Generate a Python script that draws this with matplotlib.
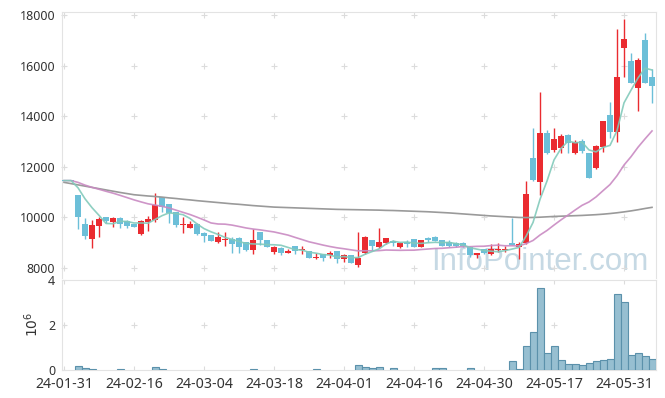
import matplotlib
matplotlib.use("Agg")
import matplotlib.pyplot as plt
import matplotlib.transforms as mtransforms
import numpy as np

# ---------------- data ----------------
dates = (["2024-01-31"]
         + ["2024-02-%02d" % d for d in [1, 2, 5, 6, 7, 8, 13, 14, 15, 16, 19, 20, 21, 22, 23, 26, 27, 28, 29]]
         + ["2024-03-%02d" % d for d in [4, 5, 6, 7, 8, 11, 12, 13, 14, 15, 18, 19, 20, 21, 22, 25, 26, 27, 28, 29]]
         + ["2024-04-%02d" % d for d in [1, 2, 3, 4, 5, 8, 9, 11, 12, 15, 16, 17, 18, 19, 22, 23, 24, 25, 26, 29, 30]]
         + ["2024-05-%02d" % d for d in [2, 3, 7, 8, 9, 10, 13, 14, 16, 17, 20, 21, 22, 23, 24, 27, 28, 29, 30, 31]]
         + ["2024-06-%02d" % d for d in [3, 4, 5, 7]])

opens = [11450, 11450, 10880, 9730, 9140, 9665, 10000, 9820, 9970, 9850,
         9730, 9320, 9800, 9890, 10790, 10520, 10190, 9700, 9585, 9745,
         9390, 9295, 9030, 9120, 9140, 9190, 9000, 8700, 9410, 9100,
         8635, 8795, 8600, 8860, 8700, 8660, 8400, 8530, 8500, 8660,
         8330, 8500, 8110, 8570, 9100, 8830, 8990, 9070, 8810, 9015,
         9120, 8810, 9165, 9230, 9100, 9030, 8990, 8980, 8830, 8500,
         8725, 8530, 8710, 8715, 8965, 8800, 8960, 12360, 11410, 13320,
         12660, 12750, 13250, 12530, 13020, 12530, 11935, 12800, 14050, 13390,
         16710, 16185, 15100, 17020, 15565]
highs = [11450, 11450, 10880, 9980, 9880, 9990, 10010, 9990, 10010, 9900,
         9750, 9890, 10060, 10940, 10800, 10530, 10200, 9990, 9830, 9760,
         9400, 9310, 9430, 9430, 9230, 9200, 9010, 9520, 9420, 9100,
         8870, 8800, 8730, 8870, 8870, 8670, 8600, 8540, 8660, 8670,
         8530, 8510, 9430, 9270, 9110, 9560, 9170, 9100, 9030, 9100,
         9130, 9110, 9230, 9240, 9110, 9100, 9030, 9000, 8840, 8600,
         8730, 8925, 8990, 8860, 9980, 9000, 11450, 13520, 14940, 13450,
         13520, 13280, 13300, 13050, 13080, 12540, 12860, 13810, 14575, 17450,
         17850, 16515, 16290, 17300, 15855]
lows = [11450, 11450, 9530, 9140, 8770, 9230, 9780, 9620, 9560, 9560,
        9620, 9300, 9470, 9820, 10220, 9760, 9620, 9390, 9560, 9290,
        9030, 9040, 8970, 8860, 8600, 8600, 8660, 8530, 8900, 8800,
        8530, 8500, 8570, 8530, 8530, 8380, 8340, 8265, 8370, 8170,
        8240, 8170, 8040, 8530, 8670, 8770, 8940, 8860, 8770, 8830,
        8820, 8800, 9030, 9060, 8860, 8830, 8830, 8830, 8410, 8370,
        8560, 8500, 8630, 8630, 8880, 8330, 8930, 11450, 10880, 12500,
        12600, 12530, 12530, 12500, 12555, 11560, 11900, 12600, 13120, 12990,
        15565, 15300, 14205, 15300, 14510]
closes = [11450, 11450, 10020, 9270, 9690, 9930, 9850, 9970, 9745, 9665,
          9625, 9850, 9930, 10480, 10420, 10180, 9700, 9720, 9730, 9335,
          9255, 9070, 9200, 9140, 8940, 8830, 8700, 9100, 9100, 8830,
          8810, 8600, 8675, 8675, 8715, 8400, 8415, 8400, 8570, 8330,
          8500, 8200, 8400, 9230, 8860, 9030, 9165, 8965, 8990, 8925,
          8830, 9100, 9100, 9070, 8870, 8870, 8860, 8850, 8500, 8595,
          8595, 8730, 8730, 8730, 8900, 8930, 10920, 11470, 13320, 12530,
          13100, 13200, 12925, 12990, 12635, 11565, 12820, 13810, 13390, 15565,
          17060, 15330, 16225, 15330, 15210]

ma5 = [11450, 11450, 11164, 10728, 10376, 10072, 9752, 9742, 9837, 9832,
       9771, 9771, 9763, 9910, 10061, 10172, 10142, 10100, 9950, 9733,
       9548, 9422, 9318, 9200, 9121, 9036, 8962, 8942, 8934, 8912,
       8908, 8888, 8803, 8718, 8695, 8613, 8576, 8521, 8500, 8423,
       8443, 8400, 8400, 8532, 8638, 8744, 8937, 9050, 9002, 9015,
       8975, 8962, 8989, 9005, 8994, 9002, 8954, 8904, 8790, 8735,
       8680, 8654, 8630, 8676, 8737, 8804, 9242, 9790, 10708, 11434,
       12268, 12724, 13015, 12949, 12970, 12663, 12587, 12764, 12844, 13430,
       14529, 15031, 15514, 15902, 15831]
ma20 = [11450, 11450, 11379, 11270, 11182, 11106, 11026, 10952, 10866, 10777,
        10686, 10606, 10530, 10481, 10430, 10366, 10279, 10192, 10106, 10001,
        9891, 9772, 9731, 9724, 9687, 9632, 9574, 9531, 9499, 9457,
        9416, 9354, 9291, 9201, 9115, 9026, 8962, 8896, 8838, 8788,
        8750, 8707, 8667, 8671, 8667, 8677, 8700, 8694, 8688, 8693,
        8694, 8719, 8740, 8760, 8768, 8791, 8813, 8836, 8832, 8846,
        8850, 8877, 8893, 8868, 8870, 8865, 8953, 9078, 9295, 9475,
        9689, 9894, 10085, 10281, 10469, 10604, 10802, 11050, 11294, 11643,
        12066, 12396, 12771, 13101, 13416]
ma_long = [11380, 11330, 11280, 11230, 11180, 11130, 11080, 11030, 10980, 10935,
           10890, 10865, 10840, 10820, 10795, 10765, 10740, 10710, 10685, 10655,
           10630, 10605, 10580, 10555, 10530, 10510, 10485, 10460, 10440, 10420,
           10400, 10390, 10380, 10370, 10360, 10350, 10340, 10330, 10320, 10310,
           10305, 10300, 10295, 10290, 10285, 10280, 10270, 10265, 10255, 10245,
           10235, 10225, 10215, 10200, 10185, 10170, 10150, 10130, 10110, 10090,
           10070, 10050, 10035, 10020, 10005, 9990, 9985, 9990, 10000, 10015,
           10030, 10040, 10050, 10060, 10070, 10085, 10100, 10120, 10145, 10175,
           10210, 10250, 10295, 10345, 10390]

volumes = [0, 0, 150000, 90000, 45000, 0, 0, 0, 40000, 0,
           0, 0, 0, 100000, 40000, 0, 0, 0, 0, 0,
           0, 0, 0, 0, 0, 0, 0, 40000, 0, 0,
           0, 0, 0, 0, 0, 0, 40000, 0, 0, 0,
           0, 0, 190000, 100000, 50000, 100000, 0, 50000, 0, 0,
           0, 0, 0, 50000, 50000, 0, 0, 0, 50000, 0,
           0, 0, 0, 0, 370000, 45000, 1040000, 1670000, 3640000, 730000,
           1040000, 420000, 240000, 240000, 190000, 280000, 370000, 420000, 460000, 3360000,
           3010000, 640000, 760000, 600000, 460000]

price_ticks = [8000, 10000, 12000, 14000, 16000, 18000]
vol_ticks = [0, 2, 4]

# ---------------- style ----------------
UP = "#ea2b30"
DOWN = "#6cbfd8"
GRID = "#dcdcdc"
SPINE = "#e3e3e3"
TXT = "#333333"
plt.rcParams["font.family"] = ["Noto Sans", "DejaVu Sans"]

W, H = 665, 398
fig = plt.figure(figsize=(W / 100, H / 100), dpi=100)
ax = fig.add_axes([62 / W, 1 - 278 / H, (656 - 62) / W, (278 - 12.3) / H])
axv = fig.add_axes([62 / W, 1 - 369.6 / H, (656 - 62) / W, (369.6 - 280) / H])

n = len(closes)
x = np.arange(n)

# watermark
ax.text(431 / W, 1 - 270 / H, "InfoPointer.com", transform=fig.transFigure,
        fontsize=22.5, color="#c6d9e4", family=["Liberation Sans", "DejaVu Sans"],
        ha="left", va="baseline", zorder=0)

# candles
for i in range(n):
    o, h, l, c = opens[i], highs[i], lows[i], closes[i]
    col = UP if c > o else DOWN
    ax.vlines(i, l, h, color=col, lw=1.0, zorder=2)
    lo = min(o, c)
    hgt = abs(c - o)
    if hgt < 45:
        mid = (o + c) / 2
        lo = mid - 22
        hgt = 45
    ax.bar(i, hgt, bottom=lo, width=0.74, color=col, zorder=3, linewidth=0)

# moving averages
ax.plot(x, ma_long, color="#9a9a9a", lw=1.2, zorder=4)
ax.plot(x, ma20, color="#c98ac2", lw=1.2, zorder=4, alpha=0.9)
ax.plot(x, ma5, color="#82cabb", lw=1.2, zorder=5, alpha=0.9)

xt = list(range(0, n, 10))
for t in xt:
    for yv in price_ticks:
        ax.plot(t, yv, marker="+", ms=5, mew=0.8, color=GRID, zorder=1, clip_on=False)
    axv.plot(t, 2, marker="+", ms=5, mew=0.8, color=GRID, zorder=1)

ax.set_xlim(-0.29, 84.57)
ax.set_ylim(7592, 18115)
ax.set_yticks(price_ticks)
ax.set_yticklabels([str(v) for v in price_ticks], fontsize=9, color=TXT)
ax.set_xticks(xt)
ax.set_xticklabels([])
ax.tick_params(axis="y", direction="in", length=3, color=GRID, pad=5)
ax.tick_params(axis="x", length=0)
for s in ["left", "top", "right"]:
    ax.spines[s].set_color(SPINE)
ax.spines["bottom"].set_visible(False)

# volume
vx = [i for i in range(n) if volumes[i] > 0]
vy = [volumes[i] / 1e6 for i in vx]
axv.bar(vx, vy, width=1.0, color="#97bfd1", edgecolor="#5b91ab", linewidth=0.8, zorder=3)
axv.set_xlim(-0.29, 84.57)
axv.set_ylim(0, 4)
axv.set_yticks(vol_ticks)
axv.set_yticklabels([str(v) for v in vol_ticks], fontsize=9, color=TXT)
# lift the "0" label slightly so it clears the date labels
shift = mtransforms.ScaledTranslation(0, 4.0 / 72, fig.dpi_scale_trans)
lbl0 = axv.get_yticklabels()[0]
lbl0.set_transform(lbl0.get_transform() + shift)
axv.set_xticks(xt)
axv.set_xticklabels([dates[t][2:] for t in xt], fontsize=10.2, color=TXT)
axv.tick_params(axis="both", direction="in", length=3, color=GRID)
axv.tick_params(axis="y", pad=5)
axv.tick_params(axis="x", pad=5, top=True)
axv.set_ylabel(r"$10^6$", fontsize=10, color=TXT, labelpad=4)
for s in axv.spines.values():
    s.set_color(SPINE)

fig.savefig("out.png", dpi=100)
